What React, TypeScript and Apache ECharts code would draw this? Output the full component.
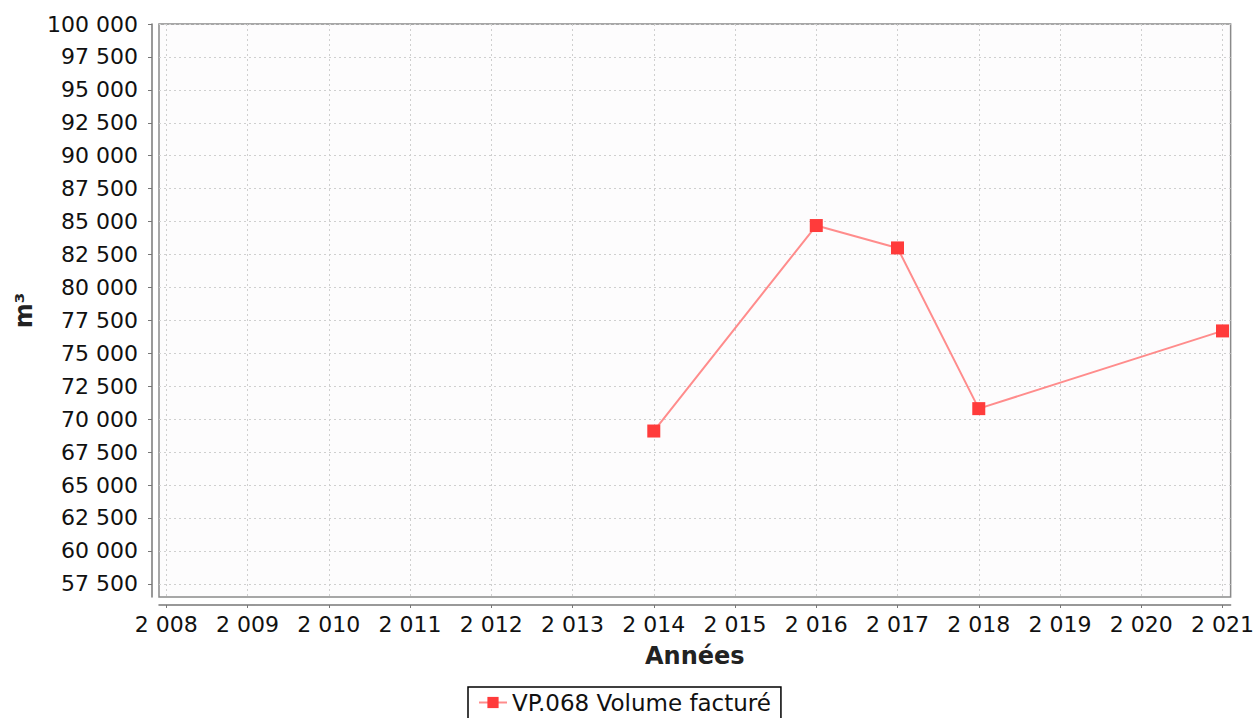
import React, { useEffect, useRef } from "react";
import * as echarts from "echarts";

const years = [2014, 2016, 2017, 2018, 2021];
const volumes = [69100, 84700, 83000, 70800, 76700];
const xTicks = [2008, 2009, 2010, 2011, 2012, 2013, 2014, 2015, 2016, 2017, 2018, 2019, 2020, 2021];
const yTicks = [57500, 60000, 62500, 65000, 67500, 70000, 72500, 75000, 77500, 80000, 82500, 85000, 87500, 90000, 92500, 95000, 97500, 100000];
const seriesName = "VP.068 Volume facturé";
const xTitle = "Années";
const yTitle = "m³";

const fmt = (v: number) => {
  const s = String(Math.round(v));
  return s.replace(/\B(?=(\d{3})+(?!\d))/g, " ");
};

const FONT = "DejaVu Sans";

export default function App() {
  const ref = useRef<HTMLDivElement>(null);
  useEffect(() => {
    if (!ref.current) return;
    const chart = echarts.init(ref.current, null, { renderer: "svg" });
    chart.setOption({
      animation: false,
      backgroundColor: "#ffffff",
      textStyle: { fontFamily: FONT },
      grid: {
        left: 159,
        top: 24,
        right: 24,
        bottom: 121,
        show: true,
        backgroundColor: "#fdfcfd",
        borderColor: "#8a8a8a",
        borderWidth: 1.5,
      },
      legend: {
        left: 468,
        top: 687,
        padding: [4, 10, 8, 10],
        borderColor: "#000",
        borderWidth: 1.5,
        borderRadius: 0,
        itemWidth: 28,
        itemHeight: 14,
        itemGap: 6,
        textStyle: { fontFamily: FONT, fontSize: 23, color: "#111" },
        data: [seriesName],
      },
      xAxis: {
        type: "value",
        min: 2007.91,
        max: 2021.1,
        offset: 8,
        name: xTitle,
        nameLocation: "middle",
        nameGap: 39,
        nameTextStyle: { fontFamily: FONT, fontSize: 24, fontWeight: "bold", color: "#222" },
        axisLine: { show: true, lineStyle: { color: "#777", width: 1.5 } },
        axisTick: { show: true, length: 3, lineStyle: { color: "#777" }, customValues: xTicks },
        axisLabel: {
          customValues: xTicks,
          margin: 8,
          fontFamily: FONT,
          fontSize: 22,
          color: "#111",
          formatter: (v: number) => fmt(v),
        },
        splitLine: { show: true, lineStyle: { color: "#cfcfcf", type: [2, 3], width: 1 } },
      },
      yAxis: {
        type: "value",
        min: 56500,
        max: 100000,
        offset: 7,
        name: yTitle,
        nameLocation: "middle",
        nameGap: 111,
        nameRotate: 90,
        nameTextStyle: { fontFamily: FONT, fontSize: 24, fontWeight: "bold", color: "#222" },
        axisLine: { show: true, lineStyle: { color: "#777", width: 1.5 } },
        axisTick: { show: true, length: 4, lineStyle: { color: "#777" }, customValues: yTicks },
        axisLabel: {
          customValues: yTicks,
          margin: 14,
          fontFamily: FONT,
          fontSize: 22,
          color: "#111",
          formatter: (v: number) => fmt(v),
        },
        splitLine: { show: true, lineStyle: { color: "#cfcfcf", type: [2, 3], width: 1 } },
      },
      series: [
        {
          name: seriesName,
          type: "line",
          data: years.map((y, i) => [y, volumes[i]]),
          symbol: "rect",
          symbolSize: 13,
          lineStyle: { color: "#ff8c8c", width: 2 },
          itemStyle: { color: "#ff3b3b" },
        },
      ],
    });
    return () => chart.dispose();
  }, []);
  return <div ref={ref} style={{ width: 1257, height: 718, position: "absolute", left: 0, top: 0 }} />;
}
